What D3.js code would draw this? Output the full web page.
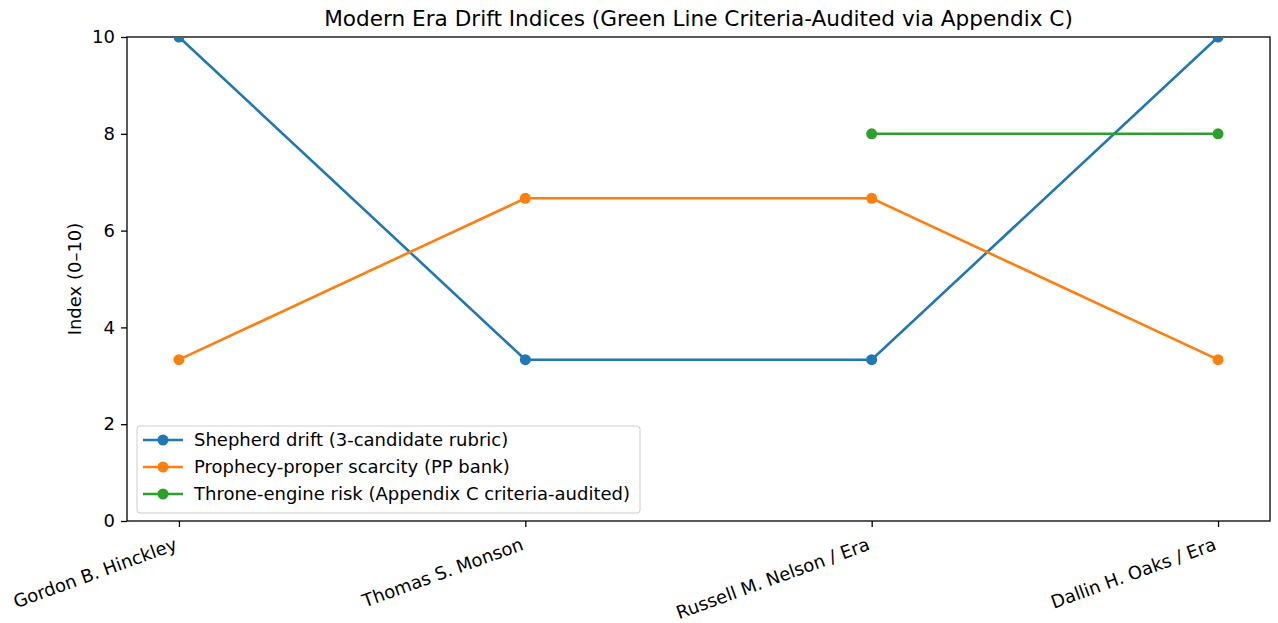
<!DOCTYPE html>
<html>
<head>
<meta charset="utf-8">
<script src="https://cdn.jsdelivr.net/npm/d3@7"></script>
<style>
  body { margin: 0; background: #fff; }
  svg { display: block; font-family: "DejaVu Sans", sans-serif; }
</style>
</head>
<body>
<div class="container"></div>
<script>
// categories and series
const categories = ["Gordon B. Hinckley", "Thomas S. Monson", "Russell M. Nelson / Era", "Dallin H. Oaks / Era"];
const shepherd = [10, 3.333, 3.333, 10];
const prophecy = [3.333, 6.667, 6.667, 3.333];
const throne = [null, null, 8, 8];
const yTicks = [0, 2, 4, 6, 8, 10];

const seriesList = [
    {name: "Shepherd drift (3-candidate rubric)", values: shepherd, color: "#1f77b4"},
    {name: "Prophecy-proper scarcity (PP bank)", values: prophecy, color: "#ff7f0e"},
    {name: "Throne-engine risk (Appendix C criteria-audited)", values: throne, color: "#2ca02c"}
];

const W = 1278, H = 623;
const margin = {top: 37, right: 8, bottom: 102, left: 127};
const width = W - margin.left - margin.right,
    height = H - margin.top - margin.bottom;
const font = "DejaVu Sans, sans-serif";

const svg = d3.select("div.container").append("svg")
    .attr("width", W)
    .attr("height", H);

//title
svg.append("text")
    .attr("x", margin.left + width / 2)
    .attr("y", 26)
    .attr("text-anchor", "middle")
    .style("font-size", "21.6px")
    .text("Modern Era Drift Indices (Green Line Criteria-Audited via Appendix C)");

const g = svg.append("g")
    .attr("transform", `translate(${margin.left},${margin.top})`);

const x = d3.scalePoint().domain(categories).range([0, width]).padding(0.15);
const y = d3.scaleLinear().domain([0, 10]).range([height, 0]);

g.append("defs").append("clipPath").attr("id", "clip")
    .append("rect").attr("width", width).attr("height", height);

//axes
const xAxis = g.append("g")
    .attr("transform", `translate(0,${height})`)
    .call(d3.axisBottom(x).tickSize(6).tickPadding(6));
xAxis.selectAll("text")
    .attr("x", 0).attr("y", 0)
    .attr("dy", "0.93em")
    .attr("text-anchor", "end")
    .attr("transform", "translate(-7,12.6) rotate(-20)");

const yAxis = g.append("g")
    .call(d3.axisLeft(y).tickValues(yTicks).tickSize(6).tickPadding(6));

[xAxis, yAxis].forEach(a => {
    a.attr("font-family", font).attr("font-size", 18);
    a.select(".domain").remove();
    a.selectAll("text").attr("fill", "#000");
    a.selectAll("line").attr("stroke", "#000").attr("stroke-width", 1.3);
});

//frame
g.append("rect")
    .attr("width", width).attr("height", height)
    .attr("fill", "none").attr("stroke", "#000").attr("stroke-width", 1.3);

svg.append("text")
    .attr("transform", `translate(75,${margin.top + height / 2}) rotate(-90)`)
    .attr("text-anchor", "middle")
    .attr("dy", "0.35em")
    .style("font-size", "18px")
    .text("Index (0–10)");

//lines
const line = d3.line()
    .defined(d => d.v !== null)
    .x(d => x(d.c))
    .y(d => y(d.v));

const plot = g.append("g").attr("clip-path", "url(#clip)");

seriesList.forEach(s => {
    const pts = s.values.map((v, i) => ({c: categories[i], v: v}));
    plot.append("path")
        .datum(pts)
        .attr("d", line)
        .attr("fill", "none")
        .attr("stroke", s.color)
        .attr("stroke-width", 2.6);
    plot.selectAll(null)
        .data(pts.filter(d => d.v !== null))
        .enter()
        .append("circle")
        .attr("cx", d => x(d.c))
        .attr("cy", d => y(d.v))
        .attr("r", 5.5)
        .attr("fill", s.color);
});

//legend
const legend = g.append("g").attr("transform", "translate(10,389)");
legend.append("rect")
    .attr("width", 503).attr("height", 87)
    .attr("rx", 3)
    .attr("fill", "#fff").attr("fill-opacity", 0.8)
    .attr("stroke", "#ccc");

seriesList.forEach((s, i) => {
    const row = legend.append("g").attr("transform", `translate(0,${14 + i * 27})`);
    row.append("line")
        .attr("x1", 6).attr("x2", 46)
        .attr("stroke", s.color).attr("stroke-width", 2.6);
    row.append("circle").attr("cx", 26).attr("r", 5.5).attr("fill", s.color);
    row.append("text")
        .attr("x", 57).attr("dy", "0.35em")
        .style("font-size", "18px")
        .text(s.name);
});
</script>
</body>
</html>
